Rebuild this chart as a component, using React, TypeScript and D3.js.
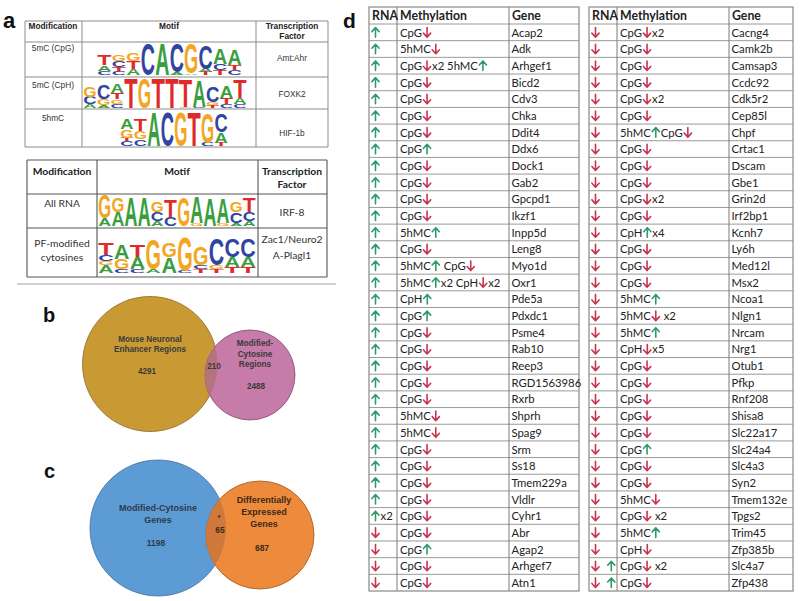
import React from "react";
import * as d3 from "d3";

// ---------- Panel a: motif tables ----------
const topMods = ["5mC (CpG)", "5mC (CpH)", "5hmC"];
const topFactors = ["Amt:Ahr", "FOXK2", "HIF-1b"];
// each motif: positions, each a stack bottom->top of [letter, height fraction]
type Stack = [string, number][];
const motifCpG: Stack[] = [
  [["C", 0.12], ["A", 0.18], ["T", 0.35]],
  [["C", 0.1], ["T", 0.15], ["C", 0.2], ["G", 0.2]],
  [["A", 0.2], ["T", 0.25], ["G", 0.25]],
  [["C", 1.0]],
  [["A", 1.0]],
  [["A", 0.08], ["C", 0.92]],
  [["A", 0.05], ["G", 0.95]],
  [["T", 0.1], ["A", 0.1], ["C", 0.75]],
  [["T", 0.15], ["C", 0.2], ["A", 0.5]],
  [["C", 0.15], ["T", 0.15], ["A", 0.5]],
];
const motifCpH: Stack[] = [
  [["A", 0.12], ["C", 0.25], ["G", 0.35]],
  [["A", 0.1], ["G", 0.2], ["C", 0.5]],
  [["C", 0.15], ["G", 0.15], ["T", 0.2], ["A", 0.3]],
  [["T", 1.0]],
  [["G", 1.0]],
  [["T", 1.0]],
  [["T", 1.0]],
  [["G", 0.05], ["T", 0.95]],
  [["C", 0.05], ["A", 0.9]],
  [["T", 0.1], ["G", 0.1], ["C", 0.55]],
  [["C", 0.15], ["T", 0.2], ["A", 0.4]],
  [["C", 0.15], ["A", 0.2], ["T", 0.6]],
];
const motifHmC: Stack[] = [
  [["C", 0.15], ["T", 0.1], ["G", 0.25], ["A", 0.3]],
  [["C", 0.2], ["G", 0.25], ["T", 0.35]],
  [["A", 1.0]],
  [["C", 1.0]],
  [["G", 1.0]],
  [["T", 1.0]],
  [["C", 0.1], ["G", 0.9]],
  [["T", 0.1], ["A", 0.3], ["C", 0.55]],
];
const bottomMods = [["All RNA"], ["PF-modified", "cytosines"]];
const bottomFactors = [["IRF-8"], ["Zac1/Neuro2", "A-Plagl1"]];
const motifRNA: Stack[] = [
  [["A", 0.25], ["G", 0.75]],
  [["A", 0.45], ["G", 0.45]],
  [["A", 0.95]],
  [["A", 0.95]],
  [["A", 0.15], ["C", 0.3], ["G", 0.35]],
  [["C", 0.3], ["T", 0.55]],
  [["G", 0.95]],
  [["G", 0.1], ["A", 0.85]],
  [["A", 0.9]],
  [["G", 0.1], ["A", 0.8]],
  [["A", 0.1], ["C", 0.35], ["G", 0.35]],
  [["A", 0.15], ["C", 0.3], ["T", 0.45]],
];
const motifPF: Stack[] = [
  [["A", 0.2], ["G", 0.1], ["C", 0.15], ["T", 0.3]],
  [["C", 0.1], ["G", 0.25], ["A", 0.35]],
  [["C", 0.1], ["A", 0.3], ["T", 0.3]],
  [["A", 0.1], ["G", 0.75]],
  [["A", 0.4], ["G", 0.35]],
  [["C", 0.05], ["G", 0.85]],
  [["T", 0.1], ["C", 0.1], ["G", 0.45]],
  [["T", 0.1], ["G", 0.1], ["C", 0.65]],
  [["T", 0.15], ["A", 0.25], ["C", 0.45]],
  [["T", 0.15], ["A", 0.25], ["C", 0.45]],
];
const baseColors: Record<string, string> = { A: "#3a9e3f", C: "#2f45a0", G: "#f2a622", T: "#e02a2a" };

// ---------- Panel b / c: Venn counts ----------
const vennBLabels = [["Mouse Neuronal", "Enhancer Regions"], ["Modified-", "Cytosine", "Regions"]];
const vennBCounts = [4291, 210, 2488];
const vennCLabels = [["Modified-Cytosine", "Genes"], ["Differentially", "Expressed", "Genes"]];
const vennCCounts = [1198, 65, 687];

// ---------- Panel d: gene table ----------
const leftRNA = [
  "↑","↑","↑","↑","↑","↑","↑","↑","↑","↑","↑","↑","↑","↑","↑","↑","↑","↑","↑","↑","↑","↑","↑","↑","↑","↑","↑","↑","↑",
  "↑x2","↓","↓","↓","↓",
];
const leftMeth = [
  "CpG↓","5hMC↓","CpG↓x2 5hMC↑","CpG↓","CpG↓","CpG↓","CpG↓","CpG↑","CpG↓","CpG↓",
  "CpG↓","CpG↓","5hMC↑","CpG↓","5hMC↑ CpG↓","5hMC↑x2 CpH↓x2","CpH↑","CpG↑","CpG↓","CpG↓",
  "CpG↓","CpG↓","CpG↓","5hMC↓","5hMC↓","CpG↓","CpG↓","CpG↓","CpG↓","CpG↓",
  "CpG↓","CpG↑","CpG↓","CpG↓",
];
const leftGenes = [
  "Acap2","Adk","Arhgef1","Bicd2","Cdv3","Chka","Ddit4","Ddx6","Dock1","Gab2",
  "Gpcpd1","Ikzf1","Inpp5d","Leng8","Myo1d","Oxr1","Pde5a","Pdxdc1","Psme4","Rab10",
  "Reep3","RGD1563986","Rxrb","Shprh","Spag9","Srm","Ss18","Tmem229a","Vldlr","Cyhr1",
  "Abr","Agap2","Arhgef7","Atn1",
];
const rightRNA = [
  "↓","↓","↓","↓","↓","↓","↓","↓","↓","↓","↓","↓","↓","↓","↓","↓","↓","↓","↓","↓",
  "↓","↓","↓","↓","↓","↓","↓","↓","↓","↓","↓","↓","↓  ↑","↓  ↑",
];
const rightMeth = [
  "CpG↓x2","CpG↓","CpG↓","CpG↓","CpG↓x2","CpG↓","5hMC↑CpG↓","CpG↓","CpG↓","CpG↓",
  "CpG↓x2","CpG↓","CpH↑x4","CpG↓","CpG↓","CpG↓","5hMC↑","5hMC↓ x2","5hMC↑","CpH↓x5",
  "CpG↓","CpG↓","CpG↓","CpG↓","CpG↓","CpG↑","CpG↓","CpG↓","5hMC↓","CpG↓ x2",
  "5hMC↑","CpH↓","CpG↓ x2","CpG↓",
];
const rightGenes = [
  "Cacng4","Camk2b","Camsap3","Ccdc92","Cdk5r2","Cep85l","Chpf","Crtac1","Dscam","Gbe1",
  "Grin2d","Irf2bp1","Kcnh7","Ly6h","Med12l","Msx2","Ncoa1","Nlgn1","Nrcam","Nrg1",
  "Otub1","Pfkp","Rnf208","Shisa8","Slc22a17","Slc24a4","Slc4a3","Syn2","Tmem132e","Tpgs2",
  "Trim45","Zfp385b","Slc4a7","Zfp438",
];
const tableHeaders = ["RNA", "Methylation", "Gene"];

const UP = "#2f9a6c";
const DOWN = "#c8344f";
const TABLE_FS = 11.3;
const TABLE_FONT = "Lato";

let measureCtx: CanvasRenderingContext2D | null = null;
function measure(s: string, fs: number): number {
  if (!measureCtx) {
    const c = document.createElement("canvas");
    measureCtx = c.getContext("2d");
  }
  if (!measureCtx) return s.length * fs * 0.5;
  measureCtx.font = `${fs}px ${TABLE_FONT}`;
  return measureCtx.measureText(s).width;
}

function Logo({ motif, x0, x1, yTop, yBot }: { motif: Stack[]; x0: number; x1: number; yTop: number; yBot: number }) {
  const xs = d3.scaleBand<number>().domain(d3.range(motif.length)).range([x0, x1]).padding(0.02);
  const ys = d3.scaleLinear().domain([0, 1]).range([yBot, yTop]);
  const els: React.ReactNode[] = [];
  motif.forEach((stack, i) => {
    let cum = 0;
    stack.forEach(([L, h], j) => {
      const yb = ys(cum);
      const yt = ys(cum + h);
      cum += h;
      const hh = yb - yt;
      const w = xs.bandwidth();
      const fs = w / 0.72;
      const sy = hh / (0.72 * fs);
      els.push(
        <text
          key={`${i}-${j}`}
          x={0}
          y={0}
          fontFamily="Liberation Sans"
          fontWeight="bold"
          fontSize={fs}
          textLength={w}
          lengthAdjust="spacingAndGlyphs"
          fill={baseColors[L]}
          transform={`translate(${xs(i)},${yb}) scale(1,${sy})`}
        >
          {L}
        </text>
      );
    });
  });
  return <g>{els}</g>;
}

const ARROW_W = 10;
function Arrow({ x, y, up }: { x: number; y: number; up: boolean }) {
  // x: left of glyph box, y: baseline
  const cx = x + ARROW_W / 2;
  const top = y - 9;
  const bot = y + 0.5;
  const hw = 3.6;
  const hh = 4;
  const d = up
    ? `M${cx},${bot} L${cx},${top + 0.6} M${cx - hw},${top + hh} L${cx},${top} L${cx + hw},${top + hh}`
    : `M${cx},${top} L${cx},${bot - 0.6} M${cx - hw},${bot - hh} L${cx},${bot} L${cx + hw},${bot - hh}`;
  return <path d={d} fill="none" stroke={up ? UP : DOWN} strokeWidth={1.6} strokeLinecap="round" strokeLinejoin="round" />;
}

function ArrowText({ s, x, y, fs }: { s: string; x: number; y: number; fs: number }) {
  const parts = s.split(/([↑↓])/).filter((p) => p.length > 0);
  let cx = x;
  const els: React.ReactNode[] = [];
  parts.forEach((p, i) => {
    if (p === "↑" || p === "↓") {
      els.push(<Arrow key={i} x={cx} y={y} up={p === "↑"} />);
      cx += ARROW_W;
    } else {
      els.push(
        <text key={i} x={cx} y={y} fontFamily={TABLE_FONT} fontSize={fs} fill="#222" style={{ whiteSpace: "pre" }}>
          {p}
        </text>
      );
      cx += measure(p, fs);
    }
  });
  return <g>{els}</g>;
}

function GeneTable({ x, rna, meth, genes }: { x: number[]; rna: string[]; meth: string[]; genes: string[] }) {
  const top = 7;
  const headBot = 24;
  const bot = 591;
  const ys = d3.scaleLinear().domain([0, genes.length]).range([headBot, bot]);
  const rows = d3.range(genes.length);
  const fs = TABLE_FS;
  return (
    <g>
      {rows.map((i) => (
        <line key={"h" + i} x1={x[0]} x2={x[3]} y1={ys(i)} y2={ys(i)} stroke="#9a9a9a" strokeWidth={1} />
      ))}
      {[1, 2].map((k) => (
        <line key={"v" + k} x1={x[k]} x2={x[k]} y1={top} y2={bot} stroke="#7a7a7a" strokeWidth={1} />
      ))}
      <rect x={x[0]} y={top} width={x[3] - x[0]} height={bot - top} fill="none" stroke="#888" strokeWidth={1.2} />
      {tableHeaders.map((h, k) => (
        <text key={h} x={x[k] + 3} y={20} fontFamily={TABLE_FONT} fontWeight="bold" fontSize={12.3} fill="#222">
          {h}
        </text>
      ))}
      {rows.map((i) => (
        <g key={"r" + i}>
          <ArrowText s={rna[i]} x={x[0] + 1.5} y={ys(i) + 12.6} fs={fs} />
          <ArrowText s={meth[i]} x={x[1] + 3} y={ys(i) + 12.6} fs={fs} />
          <text x={x[2] + 2.5} y={ys(i) + 12.6} fontFamily={TABLE_FONT} fontSize={fs} fill="#222">
            {genes[i]}
          </text>
        </g>
      ))}
    </g>
  );
}

export default function App() {
  const topRowY = [21, 42, 77, 109, 147];
  const topColX = [25, 82, 256, 328];
  const topMotifs = [motifCpG, motifCpH, motifHmC];
  const topLogoX: [number, number][] = [[97, 242], [83, 247], [120, 228]];
  const topLogoY: [number, number][] = [[43, 75], [78, 108], [112, 146]];
  const topModY = [51, 88, 121];
  const topFacY = [61, 97, 136];

  const botRowY = [160, 194, 228, 277];
  const botColX = [27, 97, 258, 327];
  const botMotifs = [motifRNA, motifPF];
  const botLogoY: [number, number][] = [[195, 226], [232, 273]];

  const sans = "Liberation Sans";
  const tfs = 8.3;
  const vb = 8.2;

  return (
    <svg width={800} height={601} style={{ position: "absolute", left: 0, top: 0, background: "#fff" }}>
      <rect x={0} y={0} width={800} height={601} fill="#fff" />
      {/* Panel labels */}
      <text x={3} y={28} fontFamily={sans} fontWeight="bold" fontSize={22} fill="#111">a</text>
      <text x={43} y={322} fontFamily={sans} fontWeight="bold" fontSize={20} fill="#111">b</text>
      <text x={44} y={478} fontFamily={sans} fontWeight="bold" fontSize={20} fill="#111">c</text>
      <text x={343} y={28} fontFamily={sans} fontWeight="bold" fontSize={21} fill="#111">d</text>

      {/* Top motif table */}
      <g>
        {topRowY.map((y, i) => (
          <line key={i} x1={topColX[0]} x2={topColX[3]} y1={y} y2={y} stroke="#8c8c8c" strokeWidth={1} />
        ))}
        {topColX.map((x, i) => (
          <line key={i} x1={x} x2={x} y1={topRowY[0]} y2={topRowY[4]} stroke="#8c8c8c" strokeWidth={1} />
        ))}
        <text x={53} y={29} textAnchor="middle" fontFamily={sans} fontWeight="bold" fontSize={tfs} fill="#222">Modification</text>
        <text x={169} y={29} textAnchor="middle" fontFamily={sans} fontWeight="bold" fontSize={tfs} fill="#222">Motif</text>
        <text x={292} y={29} textAnchor="middle" fontFamily={sans} fontWeight="bold" fontSize={tfs} fill="#222">Transcription</text>
        <text x={292} y={39} textAnchor="middle" fontFamily={sans} fontWeight="bold" fontSize={tfs} fill="#222">Factor</text>
        {topMods.map((m, i) => (
          <text key={m} x={53} y={topModY[i]} textAnchor="middle" fontFamily={sans} fontSize={tfs} fill="#333">{m}</text>
        ))}
        {topFactors.map((f, i) => (
          <text key={f} x={292} y={topFacY[i]} textAnchor="middle" fontFamily={sans} fontSize={tfs} fill="#333">{f}</text>
        ))}
        {topMotifs.map((m, i) => (
          <Logo key={i} motif={m} x0={topLogoX[i][0]} x1={topLogoX[i][1]} yTop={topLogoY[i][0]} yBot={topLogoY[i][1]} />
        ))}
      </g>

      {/* Bottom motif table */}
      <g>
        {botRowY.map((y, i) => (
          <line key={i} x1={botColX[0]} x2={botColX[3]} y1={y} y2={y} stroke="#555" strokeWidth={1.1} />
        ))}
        {botColX.map((x, i) => (
          <line key={i} x1={x} x2={x} y1={botRowY[0]} y2={botRowY[3]} stroke="#555" strokeWidth={1.1} />
        ))}
        <text x={62} y={175} textAnchor="middle" fontFamily="Lato" fontWeight="bold" fontSize={10.3} fill="#222">Modification</text>
        <text x={177} y={175} textAnchor="middle" fontFamily="Lato" fontWeight="bold" fontSize={10.3} fill="#222">Motif</text>
        <text x={292} y={175} textAnchor="middle" fontFamily="Lato" fontWeight="bold" fontSize={10.3} fill="#222">Transcription</text>
        <text x={292} y={188} textAnchor="middle" fontFamily="Lato" fontWeight="bold" fontSize={10.3} fill="#222">Factor</text>
        {bottomMods.map((lines, i) =>
          lines.map((l, j) => (
            <text key={l} x={62} y={(i === 0 ? 207 : 247) + j * 14} textAnchor="middle" fontFamily="Lato" fontSize={10.3} fill="#333">{l}</text>
          ))
        )}
        {bottomFactors.map((lines, i) =>
          lines.map((l, j) => (
            <text key={l} x={292} y={(i === 0 ? 216 : 243) + j * 16} textAnchor="middle" fontFamily="Lato" fontSize={10.3} fill="#333">{l}</text>
          ))
        )}
        {botMotifs.map((m, i) => (
          <Logo key={i} motif={m} x0={98} x1={256} yTop={botLogoY[i][0]} yBot={botLogoY[i][1]} />
        ))}
      </g>
      <line x1={17} x2={336} y1={284} y2={284} stroke="#d0d0d0" strokeWidth={2} />

      {/* Venn b */}
      <defs>
        <clipPath id="clipB"><circle cx={150} cy={364} r={67.5} /></clipPath>
        <clipPath id="clipC"><circle cx={158} cy={528} r={68} /></clipPath>
      </defs>
      <g>
        <circle cx={150} cy={364} r={67.5} fill="#c99a33" stroke="#8a6a2a" strokeWidth={0.8} />
        <circle cx={250} cy={375} r={45} fill="#c67ba9" stroke="#7a4a6a" strokeWidth={0.8} />
        <circle cx={250} cy={375} r={45} fill="#b7737c" clipPath="url(#clipB)" />
        {vennBLabels[0].map((l, j) => (
          <text key={l} x={150} y={342 + j * 10} textAnchor="middle" fontFamily={sans} fontWeight="bold" fontSize={vb} fill="#3a3a3a">{l}</text>
        ))}
        <text x={147} y={374} textAnchor="middle" fontFamily={sans} fontWeight="bold" fontSize={vb} fill="#3a3a3a">{vennBCounts[0]}</text>
        <text x={214} y={369} textAnchor="middle" fontFamily={sans} fontWeight="bold" fontSize={vb} fill="#3a3a3a">{vennBCounts[1]}</text>
        {vennBLabels[1].map((l, j) => (
          <text key={l} x={255} y={346 + j * 10.5} textAnchor="middle" fontFamily={sans} fontWeight="bold" fontSize={vb} fill="#3a3a3a">{l}</text>
        ))}
        <text x={256} y={389} textAnchor="middle" fontFamily={sans} fontWeight="bold" fontSize={vb} fill="#3a3a3a">{vennBCounts[2]}</text>
      </g>

      {/* Venn c */}
      <g>
        <circle cx={158} cy={528} r={68} fill="#5d9bd5" stroke="#3f6f9f" strokeWidth={0.8} />
        <circle cx={260} cy={535} r={54} fill="#ee8a3c" stroke="#a05a20" strokeWidth={0.8} />
        <circle cx={260} cy={535} r={54} fill="#cf7a3c" clipPath="url(#clipC)" />
        {vennCLabels[0].map((l, j) => (
          <text key={l} x={158} y={511 + j * 11.5} textAnchor="middle" fontFamily={sans} fontWeight="bold" fontSize={9} fill="#2e3a4a">{l}</text>
        ))}
        <text x={156} y={546} textAnchor="middle" fontFamily={sans} fontWeight="bold" fontSize={8.5} fill="#2e3a4a">{vennCCounts[0]}</text>
        <text x={219} y={520} textAnchor="middle" fontFamily={sans} fontWeight="bold" fontSize={8} fill="#3a2a1a">*</text>
        <text x={220} y={533} textAnchor="middle" fontFamily={sans} fontWeight="bold" fontSize={8.5} fill="#3a2a1a">{vennCCounts[1]}</text>
        {vennCLabels[1].map((l, j) => (
          <text key={l} x={264} y={503 + j * 12} textAnchor="middle" fontFamily={sans} fontWeight="bold" fontSize={9} fill="#3a2a1a">{l}</text>
        ))}
        <text x={262} y={551} textAnchor="middle" fontFamily={sans} fontWeight="bold" fontSize={8.5} fill="#3a2a1a">{vennCCounts[2]}</text>
      </g>

      {/* Panel d tables */}
      <GeneTable x={[369, 397, 509, 579]} rna={leftRNA} meth={leftMeth} genes={leftGenes} />
      <GeneTable x={[589, 617, 729, 793]} rna={rightRNA} meth={rightMeth} genes={rightGenes} />
    </svg>
  );
}
